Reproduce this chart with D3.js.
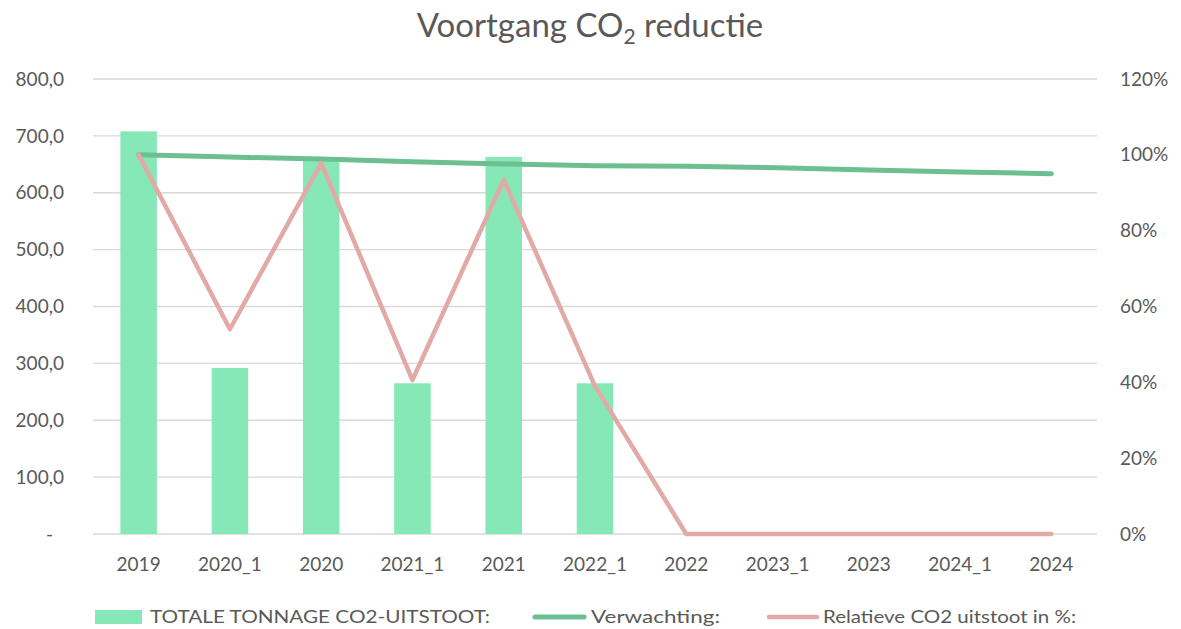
<!DOCTYPE html>
<html>
<head>
<meta charset="utf-8">
<script src="https://cdn.jsdelivr.net/npm/d3@7"></script>
<style>
  body { margin: 0; background: #fff; }
  text { font-family: Lato, "Open Sans", sans-serif; fill: #595959; }
</style>
</head>
<body>
<svg id="chart" width="1181" height="629"></svg>
<script>
// categories on the x axis
var categories = ['2019', '2020_1', '2020', '2021_1', '2021', '2022_1', '2022', '2023_1', '2023', '2024_1', '2024'];

// TOTALE TONNAGE CO2-UITSTOOT (left axis)
var tonnage = [708, 292, 660, 265, 663, 265, null, null, null, null, null];

// Verwachting (right axis, fraction)
var verwachting = [1.0, 0.994, 0.989, 0.982, 0.976, 0.971, 0.970, 0.966, 0.960, 0.955, 0.950];

// Relatieve CO2 uitstoot in % (right axis, fraction)
var relatief = [1.0, 0.54, 0.978, 0.406, 0.934, 0.39, 0, 0, 0, 0, 0];

var leftTicks = [0, 100, 200, 300, 400, 500, 600, 700, 800];
var rightTicks = [0, 0.2, 0.4, 0.6, 0.8, 1.0, 1.2];

var svg = d3.select('#chart');

var plotLeft = 93, plotRight = 1097, plotTop = 79, plotBottom = 534;

var x = d3.scaleBand().domain(categories).range([plotLeft, plotRight]).paddingInner(0.6).paddingOuter(0.3);
var xc = function(d) { return x(d) + x.bandwidth() / 2; };
var yL = d3.scaleLinear().domain([0, 800]).range([plotBottom, plotTop]);
var yR = d3.scaleLinear().domain([0, 1.2]).range([plotBottom, plotTop]);

// gridlines
svg.append('g').selectAll('line').data(leftTicks).enter().append('line')
    .attr('x1', plotLeft).attr('x2', plotRight)
    .attr('y1', function(d) { return yL(d); }).attr('y2', function(d) { return yL(d); })
    .attr('stroke', '#d9d9d9').attr('stroke-width', 1.3);

// left axis labels
var fmt = function(d) { return d === 0 ? '-' : d3.format('.1f')(d).replace('.', ','); };
svg.append('g').selectAll('text').data(leftTicks).enter().append('text')
    .attr('x', function(d) { return d === 0 ? 53 : 64; })
    .attr('y', function(d) { return yL(d); })
    .attr('dy', '0.35em').attr('text-anchor', 'end')
    .style('font-size', '19px')
    .text(fmt);

// right axis labels
svg.append('g').selectAll('text').data(rightTicks).enter().append('text')
    .attr('x', 1120)
    .attr('y', function(d) { return yR(d); })
    .attr('dy', '0.35em').attr('text-anchor', 'start')
    .style('font-size', '19px')
    .text(d3.format('.0%'));

// x labels
svg.append('g').selectAll('text').data(categories).enter().append('text')
    .attr('x', xc).attr('y', 564)
    .attr('dy', '0.35em').attr('text-anchor', 'middle')
    .style('font-size', '19px')
    .text(function(d) { return d; });

// bars
svg.append('g').selectAll('rect').data(categories.filter(function(d, i) { return tonnage[i] != null; }))
    .enter().append('rect')
    .attr('x', function(d) { return x(d); })
    .attr('width', x.bandwidth())
    .attr('y', function(d) { return yL(tonnage[categories.indexOf(d)]); })
    .attr('height', function(d) { return plotBottom - yL(tonnage[categories.indexOf(d)]); })
    .attr('fill', '#86e8b6');

var line = d3.line().x(function(d, i) { return xc(categories[i]); }).y(function(d) { return yR(d); });

svg.append('path').datum(verwachting)
    .attr('d', line).attr('fill', 'none')
    .attr('stroke', '#6cbf91').attr('stroke-width', 5).attr('stroke-linecap', 'round').attr('stroke-linejoin', 'round');

svg.append('path').datum(relatief)
    .attr('d', line).attr('fill', 'none')
    .attr('stroke', '#e2aaa7').attr('stroke-width', 4.5).attr('stroke-linecap', 'round').attr('stroke-linejoin', 'round');

// title
var title = svg.append('text').attr('x', 590).attr('y', 37).attr('text-anchor', 'middle')
    .style('font-size', '33px');
title.append('tspan').text('Voortgang CO');
title.append('tspan').attr('dy', 7).style('font-size', '21px').text('2');
title.append('tspan').attr('dy', -7).text(' reductie');

// legend
var ly = 617;
var lg = svg.append('g');
lg.append('rect').attr('x', 95).attr('y', ly - 7).attr('width', 47).attr('height', 14).attr('fill', '#86e8b6');
lg.append('text').attr('x', 150).attr('y', ly).attr('dy', '0.35em').style('font-size', '18px')
    .attr('textLength', 340).attr('lengthAdjust', 'spacingAndGlyphs')
    .text('TOTALE TONNAGE CO2-UITSTOOT:');
lg.append('line').attr('x1', 535).attr('x2', 584).attr('y1', ly).attr('y2', ly)
    .attr('stroke', '#6cbf91').attr('stroke-width', 5).attr('stroke-linecap', 'round');
lg.append('text').attr('x', 591).attr('y', ly).attr('dy', '0.35em').style('font-size', '18px')
    .attr('textLength', 129).attr('lengthAdjust', 'spacingAndGlyphs')
    .text('Verwachting:');
lg.append('line').attr('x1', 769).attr('x2', 817).attr('y1', ly).attr('y2', ly)
    .attr('stroke', '#e2aaa7').attr('stroke-width', 4.5).attr('stroke-linecap', 'round');
lg.append('text').attr('x', 823).attr('y', ly).attr('dy', '0.35em').style('font-size', '18px')
    .attr('textLength', 253).attr('lengthAdjust', 'spacingAndGlyphs')
    .text('Relatieve CO2 uitstoot in %:');
</script>
</body>
</html>
